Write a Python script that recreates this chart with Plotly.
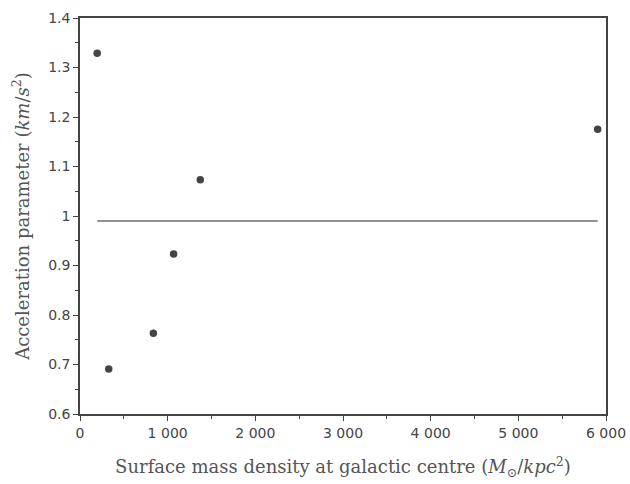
import plotly.graph_objects as go

density = [196, 328, 837, 1068, 1372, 5905]
accel = [1.329, 0.691, 0.763, 0.923, 1.073, 1.175]
mean_accel = 0.99

x_ticks = [0, 1000, 2000, 3000, 4000, 5000, 6000]
x_ticktext = ["0", "1 000", "2 000", "3 000", "4 000", "5 000", "6 000"]
y_ticks = [0.6, 0.7, 0.8, 0.9, 1.0, 1.1, 1.2, 1.3, 1.4]
y_ticktext = ["0.6", "0.7", "0.8", "0.9", "1", "1.1", "1.2", "1.3", "1.4"]

fig = go.Figure()
fig.add_trace(go.Scatter(
    x=[min(density), max(density)], y=[mean_accel, mean_accel],
    mode="lines", line=dict(color="#6e6e6e", width=1.6), showlegend=False))
fig.add_trace(go.Scatter(
    x=density, y=accel, mode="markers",
    marker=dict(color="#444444", size=7.5), showlegend=False))

axis_common = dict(
    showline=True, linecolor="#444444", linewidth=1.5, mirror=True,
    ticks="outside", ticklen=5, tickwidth=1.2, tickcolor="#444444",
    showgrid=False, zeroline=False, automargin=False,
    tickfont=dict(family="DejaVu Sans", size=14, color="#444444"),
)

fig.update_xaxes(
    range=[0, 6000], tickvals=x_ticks, ticktext=x_ticktext,
    minor=dict(dtick=500, ticks="outside", ticklen=3, tickcolor="#444444", showgrid=False),
    title=dict(text="Surface mass density at galactic centre (<i>M</i><sub>⊙</sub>/<i>kpc</i><sup>2</sup>)",
               font=dict(family="DejaVu Serif", size=18, color="#555555"), standoff=21),
    **axis_common)
fig.update_yaxes(
    range=[0.6, 1.4], tickvals=y_ticks, ticktext=y_ticktext,
    minor=dict(dtick=0.05, ticks="outside", ticklen=3, tickcolor="#444444", showgrid=False),
    title=dict(text="Acceleration parameter (<i>km</i>/<i>s</i><sup>2</sup>)",
               font=dict(family="DejaVu Serif", size=18, color="#555555"), standoff=14),
    **axis_common)

fig.update_layout(
    width=630, height=484,
    margin=dict(l=80, r=24, t=18, b=70),
    plot_bgcolor="white", paper_bgcolor="white",
)

fig.write_html("out.html", config={"displayModeBar": False},
               post_script="document.body.style.margin='0';")
